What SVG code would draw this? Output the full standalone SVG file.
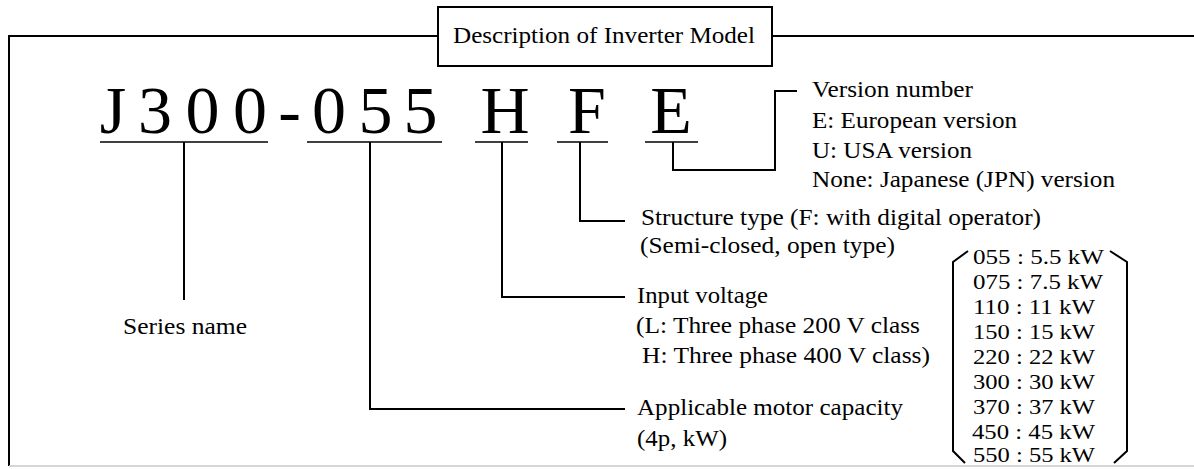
<svg xmlns="http://www.w3.org/2000/svg" width="1194" height="469" viewBox="0 0 1194 469">
<style>
  text { font-family: "Liberation Serif", "Times New Roman", serif; fill: #000; }
  .big { font-size: 68px; text-anchor: middle; }
  .title { font-size: 24px; }
  .lbl { font-size: 23px; }
  .cap { font-size: 21px; }
  .ln { stroke: #000; stroke-width: 2; fill: none; }
  .ul { stroke: #000; stroke-width: 1.6; fill: none; }
  .frame { stroke: #000; stroke-width: 2; fill: none; }
</style>
<rect width="1194" height="469" fill="#fff"/>

<g id="frame">
  <path class="frame" d="M9,466 V36 H438"/>
  <path class="frame" d="M772,36 H1194" stroke-width="1.6"/>
  <line x1="9" y1="466" x2="1194" y2="466" stroke="#c8c8c8" stroke-width="1.5"/>
</g>

<g id="title">
  <rect x="438" y="7" width="334" height="59" fill="#fff" stroke="#000" stroke-width="2"/>
  <text class="title" x="453" y="43" textLength="302" lengthAdjust="spacingAndGlyphs">Description of Inverter Model</text>
</g>

<g id="model">
  <text class="big" x="113" y="133">J</text>
  <text class="big" x="155" y="133">3</text>
  <text class="big" x="202.5" y="133">0</text>
  <text class="big" x="250" y="133">0</text>
  <text class="big" x="289.5" y="133">-</text>
  <text class="big" x="329" y="133">0</text>
  <text class="big" x="375.5" y="133">5</text>
  <text class="big" x="420.5" y="133">5</text>
  <text class="big" x="505" y="133">H</text>
  <text class="big" x="587" y="133">F</text>
  <text class="big" x="671" y="133">E</text>
  <line class="ul" x1="100" y1="142" x2="268" y2="142"/>
  <line class="ul" x1="307" y1="142" x2="442" y2="142"/>
  <line class="ul" x1="475" y1="142" x2="528" y2="142"/>
  <line class="ul" x1="557" y1="142" x2="608" y2="142"/>
  <line class="ul" x1="645" y1="142" x2="698" y2="142"/>
</g>

<g id="connectors">
  <path class="ln" d="M184,142 V300"/>
  <path class="ln" d="M370,142 V409 H625"/>
  <path class="ln" d="M502,142 V297 H625"/>
  <path class="ln" d="M580,142 V221 H625"/>
  <path class="ln" d="M673,142 V170 H775 V91 H797"/>
</g>

<g id="series">
  <text class="lbl" x="123" y="334" textLength="124" lengthAdjust="spacingAndGlyphs">Series name</text>
</g>

<g id="version">
  <text class="lbl" x="812" y="97" textLength="161" lengthAdjust="spacingAndGlyphs">Version number</text>
  <text class="lbl" x="812" y="128" textLength="205" lengthAdjust="spacingAndGlyphs">E: European version</text>
  <text class="lbl" x="812" y="158" textLength="160" lengthAdjust="spacingAndGlyphs">U: USA version</text>
  <text class="lbl" x="812" y="187" textLength="303" lengthAdjust="spacingAndGlyphs">None: Japanese (JPN) version</text>
</g>

<g id="structure">
  <text class="lbl" x="641" y="225" textLength="400" lengthAdjust="spacingAndGlyphs">Structure type (F: with digital operator)</text>
  <text class="lbl" x="640" y="253" textLength="255" lengthAdjust="spacingAndGlyphs">(Semi-closed, open type)</text>
</g>

<g id="voltage">
  <text class="lbl" x="637" y="303" textLength="131" lengthAdjust="spacingAndGlyphs">Input voltage</text>
  <text class="lbl" x="636" y="333" textLength="284" lengthAdjust="spacingAndGlyphs">(L: Three phase 200 V class</text>
  <text class="lbl" x="642" y="363" textLength="288" lengthAdjust="spacingAndGlyphs">H: Three phase 400 V class)</text>
</g>

<g id="capacity">
  <text class="lbl" x="637" y="415" textLength="266" lengthAdjust="spacingAndGlyphs">Applicable motor capacity</text>
  <text class="lbl" x="637" y="446" textLength="90" lengthAdjust="spacingAndGlyphs">(4p, kW)</text>
</g>

<g id="capacity-list">
  <path class="ln" d="M968,251 L953,262 V451 L965,463"/>
  <path class="ln" d="M1110,251 L1127,262 V451 L1114,463"/>
  <text class="cap" x="973" y="264" textLength="131" lengthAdjust="spacingAndGlyphs">055 : 5.5 kW</text>
  <text class="cap" x="973" y="289" textLength="130" lengthAdjust="spacingAndGlyphs">075 : 7.5 kW</text>
  <text class="cap" x="973" y="314" textLength="122" lengthAdjust="spacingAndGlyphs">110 : 11 kW</text>
  <text class="cap" x="973" y="339" textLength="122" lengthAdjust="spacingAndGlyphs">150 : 15 kW</text>
  <text class="cap" x="973" y="364" textLength="122" lengthAdjust="spacingAndGlyphs">220 : 22 kW</text>
  <text class="cap" x="973" y="389" textLength="122" lengthAdjust="spacingAndGlyphs">300 : 30 kW</text>
  <text class="cap" x="973" y="414" textLength="122" lengthAdjust="spacingAndGlyphs">370 : 37 kW</text>
  <text class="cap" x="972" y="439" textLength="123" lengthAdjust="spacingAndGlyphs">450 : 45 kW</text>
  <text class="cap" x="973" y="462" textLength="122" lengthAdjust="spacingAndGlyphs">550 : 55 kW</text>
</g>
</svg>
